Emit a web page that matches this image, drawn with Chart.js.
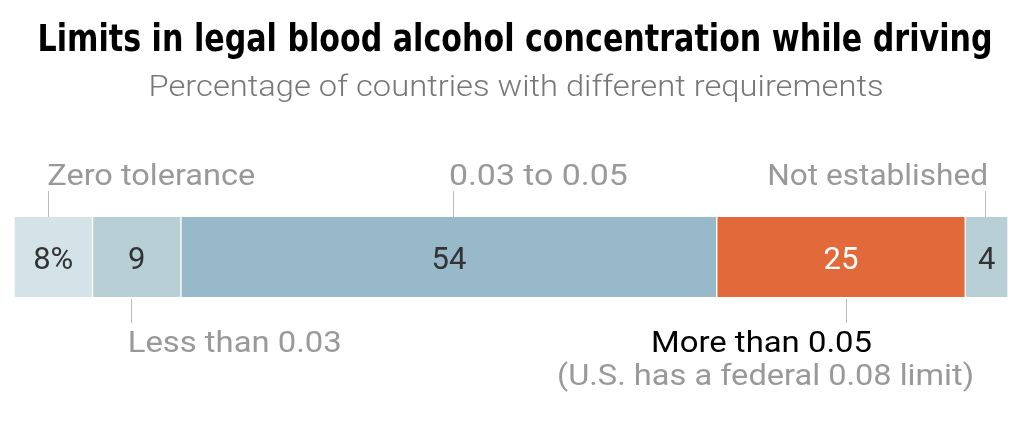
<!DOCTYPE html>
<html>
<head>
<meta charset="utf-8">
<script src="https://cdn.jsdelivr.net/npm/chart.js@4.4.0/dist/chart.umd.min.js"></script>
<style>
  body { margin: 0; background: #fff; }
  #wrap { width: 1024px; height: 427px; }
</style>
</head>
<body>
<div id="wrap"><canvas id="bac-chart" width="1024" height="427"></canvas></div>
<script>
const categories = ['Zero tolerance', 'Less than 0.03', '0.03 to 0.05', 'More than 0.05', 'Not established'];
const shares = [7.9, 8.9, 53.9, 25.0, 4.3];
const valueLabels = ['8%', '9', '54', '25', '4'];
const barColors = ['#d4e3e8', '#b9cfd6', '#97b9ca', '#e2693a', '#b9cfd6'];
const valueColors = ['#333333', '#333333', '#333333', '#ffffff', '#333333'];

const titleText = 'Limits in legal blood alcohol concentration while driving';
const subtitleText = 'Percentage of countries with different requirements';
const noteText = '(U.S. has a federal 0.08 limit)';

// Text auf eine Zielbreite stauchen/strecken
function fitText(ctx, text, x, y, width, align) {
  const w = ctx.measureText(text).width;
  const sx = width / w;
  let left = x;
  if (align === 'right') left = x - width;
  if (align === 'center') left = x - width / 2;
  ctx.save();
  ctx.translate(left, y);
  ctx.scale(sx, 1);
  ctx.textAlign = 'left';
  ctx.fillText(text, 0, 0);
  ctx.restore();
}

function leader(ctx, x, y1, y2) {
  ctx.save();
  ctx.strokeStyle = '#bbbbbb';
  ctx.lineWidth = 1;
  ctx.beginPath();
  ctx.moveTo(Math.round(x) + 0.5, y1);
  ctx.lineTo(Math.round(x) + 0.5, y2);
  ctx.stroke();
  ctx.restore();
}

const labelPlugin = {
  id: 'labelPlugin',
  afterDraw(chart) {
    const ctx = chart.ctx;
    const area = chart.chartArea;
    const centers = chart.data.datasets.map((ds, i) => {
      const el = chart.getDatasetMeta(i).data[0];
      return (el.x + el.base) / 2;
    });
    ctx.save();
    ctx.textBaseline = 'alphabetic';

    // Titel und Untertitel
    ctx.fillStyle = '#000';
    ctx.font = 'bold 37px "Liberation Sans Narrow", "DejaVu Sans Condensed", sans-serif';
    fitText(ctx, titleText, 515, 51, 955, 'center');
    ctx.fillStyle = '#777';
    ctx.font = '300 29px Roboto, "Noto Sans", sans-serif';
    fitText(ctx, subtitleText, 516, 96, 735, 'center');

    // Werte in den Balken
    ctx.font = '31px Roboto, "Noto Sans", sans-serif';
    valueLabels.forEach((t, i) => {
      ctx.fillStyle = valueColors[i];
      ctx.textAlign = 'center';
      ctx.fillText(t, centers[i], area.top + 52);
    });

    // Beschriftungen oben
    const topBase = area.top - 32;
    ctx.font = '30px Roboto, "Noto Sans", sans-serif';
    ctx.fillStyle = '#999';
    fitText(ctx, categories[0], centers[0] - 6, topBase, 208, 'left');
    leader(ctx, centers[0] - 5, area.top - 26, area.top);
    fitText(ctx, categories[2], centers[2], topBase, 179, 'left');
    leader(ctx, centers[2] + 4, area.top - 26, area.top);
    fitText(ctx, categories[4], centers[4] + 1.5, topBase, 221, 'right');
    leader(ctx, centers[4] - 1.5, area.top - 26, area.top);

    // Beschriftungen unten
    const botBase = area.bottom + 55;
    fitText(ctx, categories[1], centers[1] - 9, botBase, 214, 'left');
    leader(ctx, centers[1] - 6, area.bottom + 2, area.bottom + 26);
    ctx.fillStyle = '#000';
    fitText(ctx, categories[3], centers[3] + 31, botBase, 221, 'right');
    leader(ctx, centers[3] + 5, area.bottom + 2, area.bottom + 26);
    ctx.fillStyle = '#999';
    fitText(ctx, noteText, centers[3] + 133, botBase + 33, 417, 'right');

    ctx.restore();
  }
};

const datasets = categories.map((c, i) => ({
  label: c,
  data: [shares[i]],
  backgroundColor: barColors[i],
  borderColor: '#ffffff',
  borderWidth: { left: 1, right: 1, top: 0, bottom: 0 },
  borderSkipped: false,
  barPercentage: 1,
  categoryPercentage: 1
}));

const ctx = document.getElementById('bac-chart').getContext('2d');
const bacChart = new Chart(ctx, {
  type: 'bar',
  data: { labels: ['Länder'], datasets: datasets },
  options: {
    indexAxis: 'y',
    responsive: false,
    animation: false,
    layout: { padding: { top: 217, bottom: 130, left: 14, right: 16 } },
    scales: {
      x: { stacked: true, min: 0, max: 100, display: false },
      y: { stacked: true, display: false }
    },
    plugins: {
      legend: { display: false },
      tooltip: { enabled: false },
      title: { display: false }
    }
  },
  plugins: [labelPlugin]
});
</script>
</body>
</html>
